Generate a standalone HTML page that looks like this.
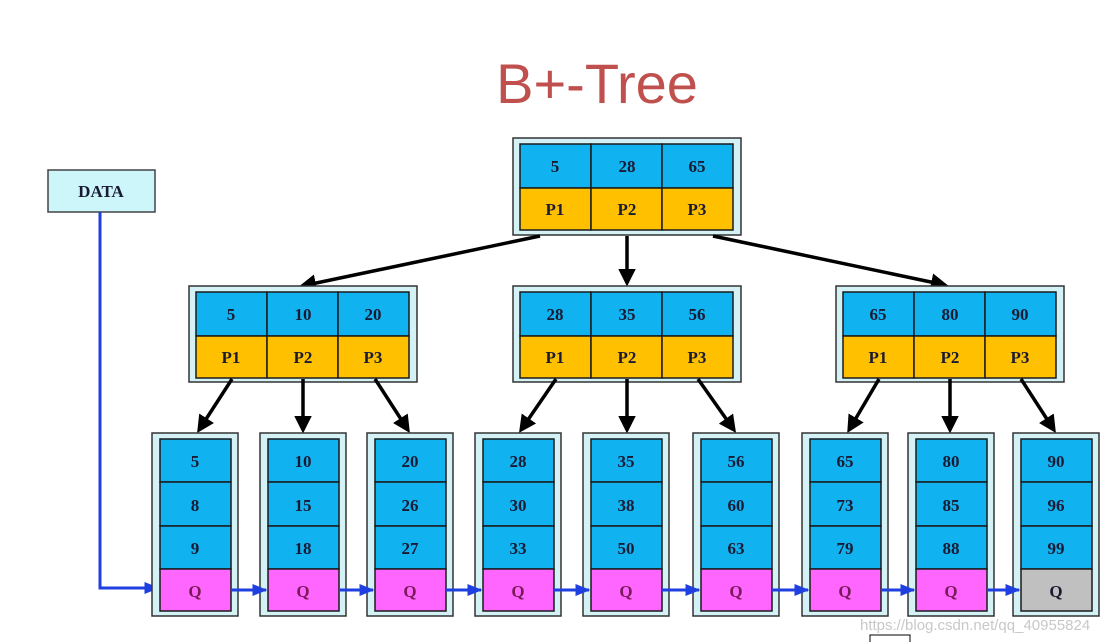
<!DOCTYPE html>
<html><head><meta charset="utf-8"><style>
html,body{margin:0;padding:0;background:#fff;width:1113px;height:642px;overflow:hidden}
svg{display:block}
.t{font-family:"Liberation Serif",serif;font-weight:bold;font-size:17px;fill:#1a1a33;text-anchor:middle}
.q{fill:#7a1a5a}
.o{fill:#d4f2f6;stroke:#333;stroke-width:1.5}
.b{fill:#10b2f0;stroke:#1a1a1a;stroke-width:1.5}
.y{fill:#ffc000;stroke:#1a1a1a;stroke-width:1.5}
.m{fill:#ff66ff;stroke:#1a1a1a;stroke-width:1.5}
.g{fill:#c0c0c0;stroke:#1a1a1a;stroke-width:1.5}
.a{stroke:#000;stroke-width:3.5;fill:none;marker-end:url(#ah)}
.l{stroke:#1f3fe0;stroke-width:3;fill:none;marker-end:url(#bh)}
</style></head><body>
<svg width="1113" height="642" viewBox="0 0 1113 642" xmlns="http://www.w3.org/2000/svg">
<defs>
<marker id="ah" markerWidth="5" markerHeight="5" refX="4" refY="2.5" orient="auto" markerUnits="strokeWidth"><path d="M0,0 L5,2.5 L0,5 z" fill="#000"/></marker>
<marker id="bh" markerWidth="5" markerHeight="4" refX="4.5" refY="2" orient="auto" markerUnits="strokeWidth"><path d="M0,0 L5,2 L0,4 z" fill="#1f3fe0"/></marker>
</defs>
<text x="597" y="103" font-family="Liberation Sans,sans-serif" font-size="56" fill="#c0504d" text-anchor="middle">B+-Tree</text>

<rect x="48" y="170" width="107" height="42" fill="#ccf6fa" stroke="#444" stroke-width="1.5"/>
<text class="t" x="101" y="197" font-size="16">DATA</text>
<path d="M100,212 L100,588 L158,588" class="l"/>

<rect class="o" x="513" y="138" width="228" height="97"/>
<rect class="b" x="520" y="144" width="71" height="44"/><rect class="b" x="591" y="144" width="71" height="44"/><rect class="b" x="662" y="144" width="71" height="44"/>
<rect class="y" x="520" y="188" width="71" height="42"/><rect class="y" x="591" y="188" width="71" height="42"/><rect class="y" x="662" y="188" width="71" height="42"/>
<text class="t" x="555" y="172">5</text><text class="t" x="627" y="172">28</text><text class="t" x="697" y="172">65</text>
<text class="t" x="555" y="215">P1</text><text class="t" x="627" y="215">P2</text><text class="t" x="697" y="215">P3</text>
<path class="a" d="M540,236 L302,286"/>
<path class="a" d="M627,236 L627,283"/>
<path class="a" d="M713,236 L945,285"/>

<rect class="o" x="189" y="286" width="228" height="96"/>
<rect class="b" x="196" y="292" width="71" height="44"/><rect class="b" x="267" y="292" width="71" height="44"/><rect class="b" x="338" y="292" width="71" height="44"/>
<rect class="y" x="196" y="336" width="71" height="42"/><rect class="y" x="267" y="336" width="71" height="42"/><rect class="y" x="338" y="336" width="71" height="42"/>
<text class="t" x="231" y="320">5</text><text class="t" x="303" y="320">10</text><text class="t" x="373" y="320">20</text>
<text class="t" x="231" y="363">P1</text><text class="t" x="303" y="363">P2</text><text class="t" x="373" y="363">P3</text>
<rect class="o" x="513" y="286" width="228" height="96"/>
<rect class="b" x="520" y="292" width="71" height="44"/><rect class="b" x="591" y="292" width="71" height="44"/><rect class="b" x="662" y="292" width="71" height="44"/>
<rect class="y" x="520" y="336" width="71" height="42"/><rect class="y" x="591" y="336" width="71" height="42"/><rect class="y" x="662" y="336" width="71" height="42"/>
<text class="t" x="555" y="320">28</text><text class="t" x="627" y="320">35</text><text class="t" x="697" y="320">56</text>
<text class="t" x="555" y="363">P1</text><text class="t" x="627" y="363">P2</text><text class="t" x="697" y="363">P3</text>
<rect class="o" x="836" y="286" width="228" height="96"/>
<rect class="b" x="843" y="292" width="71" height="44"/><rect class="b" x="914" y="292" width="71" height="44"/><rect class="b" x="985" y="292" width="71" height="44"/>
<rect class="y" x="843" y="336" width="71" height="42"/><rect class="y" x="914" y="336" width="71" height="42"/><rect class="y" x="985" y="336" width="71" height="42"/>
<text class="t" x="878" y="320">65</text><text class="t" x="950" y="320">80</text><text class="t" x="1020" y="320">90</text>
<text class="t" x="878" y="363">P1</text><text class="t" x="950" y="363">P2</text><text class="t" x="1020" y="363">P3</text>

<path class="a" d="M232,379 L199,430"/><path class="a" d="M303,379 L303,430"/><path class="a" d="M375,379 L408,430"/>
<path class="a" d="M556,379 L521,430"/><path class="a" d="M627,379 L627,430"/><path class="a" d="M698,379 L734,430"/>
<path class="a" d="M879,379 L849,430"/><path class="a" d="M950,379 L950,430"/><path class="a" d="M1021,379 L1054,430"/>

<rect class="o" x="152" y="433" width="86" height="183"/><rect class="b" x="160" y="439" width="71" height="43"/><rect class="b" x="160" y="482" width="71" height="44"/><rect class="b" x="160" y="526" width="71" height="43"/><rect class="m" x="160" y="569" width="71" height="42"/>
<text class="t" x="195" y="467">5</text><text class="t" x="195" y="511">8</text><text class="t" x="195" y="554">9</text><text class="t q" x="195" y="597">Q</text>

<rect class="o" x="260" y="433" width="86" height="183"/><rect class="b" x="268" y="439" width="71" height="43"/><rect class="b" x="268" y="482" width="71" height="44"/><rect class="b" x="268" y="526" width="71" height="43"/><rect class="m" x="268" y="569" width="71" height="42"/>
<text class="t" x="303" y="467">10</text><text class="t" x="303" y="511">15</text><text class="t" x="303" y="554">18</text><text class="t q" x="303" y="597">Q</text>

<rect class="o" x="367" y="433" width="86" height="183"/><rect class="b" x="375" y="439" width="71" height="43"/><rect class="b" x="375" y="482" width="71" height="44"/><rect class="b" x="375" y="526" width="71" height="43"/><rect class="m" x="375" y="569" width="71" height="42"/>
<text class="t" x="410" y="467">20</text><text class="t" x="410" y="511">26</text><text class="t" x="410" y="554">27</text><text class="t q" x="410" y="597">Q</text>

<rect class="o" x="475" y="433" width="86" height="183"/><rect class="b" x="483" y="439" width="71" height="43"/><rect class="b" x="483" y="482" width="71" height="44"/><rect class="b" x="483" y="526" width="71" height="43"/><rect class="m" x="483" y="569" width="71" height="42"/>
<text class="t" x="518" y="467">28</text><text class="t" x="518" y="511">30</text><text class="t" x="518" y="554">33</text><text class="t q" x="518" y="597">Q</text>

<rect class="o" x="583" y="433" width="86" height="183"/><rect class="b" x="591" y="439" width="71" height="43"/><rect class="b" x="591" y="482" width="71" height="44"/><rect class="b" x="591" y="526" width="71" height="43"/><rect class="m" x="591" y="569" width="71" height="42"/>
<text class="t" x="626" y="467">35</text><text class="t" x="626" y="511">38</text><text class="t" x="626" y="554">50</text><text class="t q" x="626" y="597">Q</text>

<rect class="o" x="693" y="433" width="86" height="183"/><rect class="b" x="701" y="439" width="71" height="43"/><rect class="b" x="701" y="482" width="71" height="44"/><rect class="b" x="701" y="526" width="71" height="43"/><rect class="m" x="701" y="569" width="71" height="42"/>
<text class="t" x="736" y="467">56</text><text class="t" x="736" y="511">60</text><text class="t" x="736" y="554">63</text><text class="t q" x="736" y="597">Q</text>

<rect class="o" x="802" y="433" width="86" height="183"/><rect class="b" x="810" y="439" width="71" height="43"/><rect class="b" x="810" y="482" width="71" height="44"/><rect class="b" x="810" y="526" width="71" height="43"/><rect class="m" x="810" y="569" width="71" height="42"/>
<text class="t" x="845" y="467">65</text><text class="t" x="845" y="511">73</text><text class="t" x="845" y="554">79</text><text class="t q" x="845" y="597">Q</text>

<rect class="o" x="908" y="433" width="86" height="183"/><rect class="b" x="916" y="439" width="71" height="43"/><rect class="b" x="916" y="482" width="71" height="44"/><rect class="b" x="916" y="526" width="71" height="43"/><rect class="m" x="916" y="569" width="71" height="42"/>
<text class="t" x="951" y="467">80</text><text class="t" x="951" y="511">85</text><text class="t" x="951" y="554">88</text><text class="t q" x="951" y="597">Q</text>

<rect class="o" x="1013" y="433" width="86" height="183"/><rect class="b" x="1021" y="439" width="71" height="43"/><rect class="b" x="1021" y="482" width="71" height="44"/><rect class="b" x="1021" y="526" width="71" height="43"/><rect class="g" x="1021" y="569" width="71" height="42"/>
<text class="t" x="1056" y="467">90</text><text class="t" x="1056" y="511">96</text><text class="t" x="1056" y="554">99</text><text class="t" x="1056" y="597" fill="#000">Q</text>

<path class="l" d="M231,590 L266,590"/><path class="l" d="M339,590 L373,590"/><path class="l" d="M446,590 L481,590"/>
<path class="l" d="M554,590 L589,590"/><path class="l" d="M662,590 L699,590"/><path class="l" d="M772,590 L808,590"/>
<path class="l" d="M881,590 L914,590"/><path class="l" d="M987,590 L1019,590"/>

<text x="860" y="630" font-family="Liberation Sans,sans-serif" font-size="15" fill="#c8c8c8">https://blog.csdn.net/qq_40955824</text>
<rect x="870" y="635" width="40" height="10" fill="#fff" stroke="#000" stroke-width="1"/>
</svg>
</body></html>
